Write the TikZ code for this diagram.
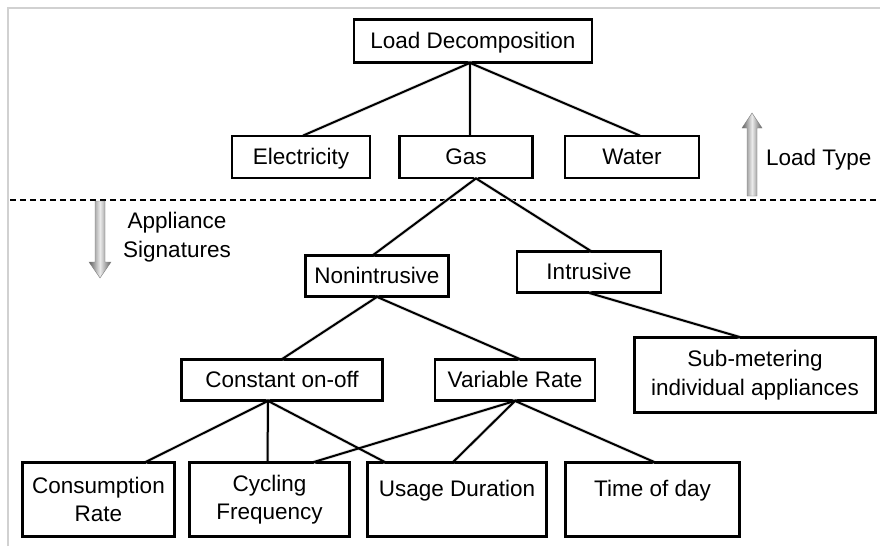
\documentclass[tikz,border=0pt]{standalone}
\usepackage{fontspec}
\setmainfont{Liberation Sans}
\usetikzlibrary{calc}
\begin{document}
\begin{tikzpicture}[x=1pt,y=-1pt,
  box/.style={draw=black,line width=1.8pt,fill=white,inner sep=0pt,align=center,
    font=\fontsize{22.5}{28.5}\selectfont},
  one/.style={text height=16pt,text depth=2pt},
  conn/.style={line width=2pt,draw=black},
  shadow/.style={line width=3.5pt,draw=black!10,shift={(1.5,2.5)}},
  lbl/.style={inner sep=0pt,align=center,font=\fontsize{22.5}{28.5}\selectfont},
  fat/.style={shading=axis,left color=black!62,right color=black!62,middle color=black!8,shading angle=90,draw=black!50,line width=0.4pt}
]
\useasboundingbox (0,0) rectangle (880,546);
\fill[white] (0,0) rectangle (880,546);
% frame
\draw[black!18,line width=2pt] (8,546) -- (8,8) -- (880,8);
% dashed separator
\draw[line width=1.8pt,dash pattern=on 6pt off 4pt] (10,200) -- (880,200);

% nodes
\node[box,one,minimum width=237,minimum height=42] (ld) at (473,41) {Load Decomposition};
\node[box,one,minimum width=137,minimum height=41] (el) at (301,157) {Electricity};
\node[box,one,minimum width=132,minimum height=41] (gas) at (466,157) {Gas};
\node[box,one,minimum width=133,minimum height=41] (wa) at (632,157) {Water};
\node[box,one,minimum width=142,minimum height=40] (ni) at (377,276) {Nonintrusive};
\node[box,one,minimum width=143,minimum height=40] (in) at (589,272) {Intrusive};
\node[box,minimum width=240,minimum height=74] (sm) at (755,375) {Sub-metering\\individual appliances};
\node[box,one,minimum width=200,minimum height=40] (co) at (282,380) {Constant on-off};
\node[box,one,minimum width=159,minimum height=40] (vr) at (515,380) {Variable Rate};
\node[box,minimum width=151,minimum height=73] (cr) at (98.5,499.5) {Consumption\\Rate};
\node[box,minimum width=159,minimum height=73] (cf) at (269.5,499.5) {Cycling\\Frequency};
\node[box,minimum width=178,minimum height=73,text height=16pt,text depth=22pt] (ud) at (457,499.5) {Usage Duration};
\node[box,minimum width=173,minimum height=73,text height=16pt,text depth=22pt] (td) at (652.5,499.5) {Time of day};

% connector anchor coordinates
\coordinate (ldb) at ($(ld.south)+(-3,0)$);
\coordinate (elt) at ($(el.north)+(2,0)$);
\coordinate (gat) at ($(gas.north)+(4,0)$);
\coordinate (wat) at ($(wa.north)+(8,0)$);
\coordinate (gab) at ($(gas.south)+(10,0)$);
\coordinate (nit) at ($(ni.north)+(-4,0)$);
\coordinate (int) at ($(in.north)+(2,0)$);
\coordinate (inb) at ($(in.south)+(0,0)$);
\coordinate (smt) at ($(sm.north)+(-15,0)$);
\coordinate (nib) at ($(ni.south)+(0,0)$);
\coordinate (cot) at ($(co.north)+(0,0)$);
\coordinate (vrt) at ($(vr.north)+(5,0)$);
\coordinate (cob) at ($(co.south)+(-14,0)$);
\coordinate (crt) at ($(cr.north)+(47,0)$);
\coordinate (cft) at ($(cf.north)+(-2,0)$);
\coordinate (cft2) at ($(cf.north)+(44,0)$);
\coordinate (udt) at ($(ud.north)+(-72,0)$);
\coordinate (udt2) at ($(ud.north)+(-4,0)$);
\coordinate (vrb) at ($(vr.south)+(0,0)$);
\coordinate (tdt) at ($(td.north)+(2,0)$);

\foreach \a/\b in {ldb/elt,ldb/gat,ldb/wat,gab/nit,gab/int,inb/smt,nib/cot,nib/vrt,cob/crt,cob/cft,cob/udt,vrb/cft2,vrb/udt2,vrb/tdt}
  \draw[shadow] (\a) -- (\b);
\foreach \a/\b in {ldb/elt,ldb/gat,ldb/wat,gab/nit,gab/int,inb/smt,nib/cot,nib/vrt,cob/crt,cob/cft,cob/udt,vrb/cft2,vrb/udt2,vrb/tdt}
  \draw[conn] (\a) -- (\b);
% redraw box outlines on top of line ends
\foreach \n in {ld,el,gas,wa,ni,in,sm,co,vr,cr,cf,ud,td}
  \draw[line width=1.8pt] (\n.south west) rectangle (\n.north east);

% fat arrows
\path[fat] (747,196) -- (747,128) -- (742,128) -- (752,113) -- (762,128) -- (757,128) -- (757,196) -- cycle;
\path[fat] (95,201) -- (95,262) -- (89,262) -- (100,278) -- (111,262) -- (105,262) -- (105,201) -- cycle;

\node[lbl,anchor=west] (lt) at (766,160) {Load Type};
\node[lbl] (as) at (177,237) {Appliance\\Signatures};
\end{tikzpicture}
\end{document}
